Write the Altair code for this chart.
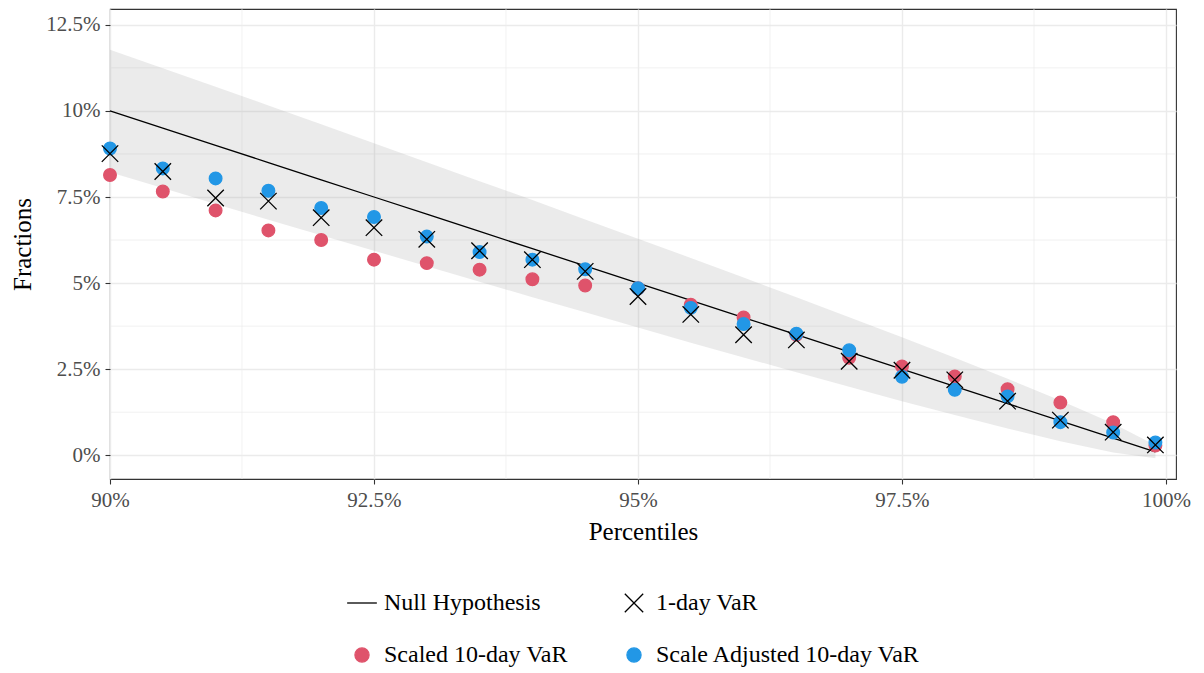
import altair as alt
import pandas as pd

# ---- data (fractions) ----
percentiles = [0.900, 0.905, 0.910, 0.915, 0.920, 0.925, 0.930, 0.935, 0.940, 0.945, 0.950,
               0.955, 0.960, 0.965, 0.970, 0.975, 0.980, 0.985, 0.990, 0.995, 0.999]
null_hypothesis = [0.100, 0.095, 0.090, 0.085, 0.080, 0.075, 0.070, 0.065, 0.060, 0.055, 0.050,
                   0.045, 0.040, 0.035, 0.030, 0.025, 0.020, 0.015, 0.010, 0.005, 0.001]
band_low = [0.0822, 0.0776, 0.0730, 0.0684, 0.0639, 0.0594, 0.0549, 0.0504, 0.0459, 0.0415, 0.0371,
            0.0327, 0.0284, 0.0241, 0.0199, 0.0157, 0.0117, 0.0078, 0.0041, 0.0008, -0.0009]
band_high = [0.1178, 0.1124, 0.1070, 0.1016, 0.0961, 0.0906, 0.0851, 0.0796, 0.0741, 0.0685, 0.0629,
             0.0573, 0.0516, 0.0459, 0.0401, 0.0343, 0.0283, 0.0222, 0.0159, 0.0092, 0.0029]
one_day_var = [0.0876, 0.0824, 0.0747, 0.0738, 0.0690, 0.0661, 0.0627, 0.0594, 0.0568, 0.0534, 0.0461,
               0.0409, 0.0350, 0.0335, 0.0273, 0.0247, 0.0219, 0.0157, 0.0102, 0.0067, 0.0030]
scaled_10day = [0.0814, 0.0766, 0.0711, 0.0653, 0.0625, 0.0568, 0.0558, 0.0539, 0.0511, 0.0493, 0.0485,
                0.0437, 0.0400, 0.0350, 0.0283, 0.0258, 0.0229, 0.0192, 0.0153, 0.0096, 0.0028]
adjusted_10day = [0.0891, 0.0833, 0.0804, 0.0768, 0.0718, 0.0692, 0.0635, 0.0590, 0.0568, 0.0540, 0.0485,
                  0.0428, 0.0381, 0.0353, 0.0305, 0.0228, 0.0190, 0.0171, 0.0096, 0.0066, 0.0037]

series_names = ["Null Hypothesis", "1-day VaR", "Scaled 10-day VaR", "Scale Adjusted 10-day VaR"]
series_colors = ["#000000", "#000000", "#DF536B", "#2297E6"]
x_ticks = [0.900, 0.925, 0.950, 0.975, 1.000]
y_ticks = [0.000, 0.025, 0.050, 0.075, 0.100, 0.125]
x_minor = [0.9125, 0.9375, 0.9625, 0.9875]
y_minor = [0.0125, 0.0375, 0.0625, 0.0875, 0.1125]

LINE_PATH = "M-2.1,0L2.1,0"
X_PATH = "M-1.3,-1.3L1.3,1.3M-1.3,1.3L1.3,-1.3"
series_shapes = [LINE_PATH, X_PATH, "circle", "circle"]

FONT = "Liberation Serif"

band_df = pd.DataFrame({"pct": percentiles, "low": band_low, "high": band_high})
line_df = pd.DataFrame({"pct": percentiles, "value": null_hypothesis})
pts_rows = []
for name, vals in [("Scaled 10-day VaR", scaled_10day),
                   ("Scale Adjusted 10-day VaR", adjusted_10day),
                   ("1-day VaR", one_day_var)]:
    for p, v in zip(percentiles, vals):
        pts_rows.append({"pct": p, "value": v, "series": name})
pts_df = pd.DataFrame(pts_rows)
pts_df["ord"] = range(len(pts_df))
xminor_df = pd.DataFrame({"pct": x_minor})
yminor_df = pd.DataFrame({"value": y_minor})

x_scale = alt.Scale(domain=[0.900, 1.00095], nice=False, zero=False)
y_scale = alt.Scale(domain=[-0.0069, 0.1296], nice=False, zero=False)
x_axis = alt.Axis(values=x_ticks, format=".1~%", title="Percentiles", labelFlush=False,
                  labelOverlap=False, grid=True)
y_axis = alt.Axis(values=y_ticks, format=".1~%", title="Fractions", labelOverlap=False, grid=True)

legend = alt.Legend(title=None, orient="none", legendX=240, legendY=582, columns=2,
                    direction="horizontal",
                    symbolSize=200, symbolStrokeWidth=1.3, labelOffset=10, labelLimit=500,
                    columnPadding=54, rowPadding=28, padding=0,
                    labelFont=FONT, labelFontSize=24, labelColor="black")

minor_x = alt.Chart(xminor_df).mark_rule(color="#EBEBEB", strokeWidth=0.7).encode(
    x=alt.X("pct:Q", scale=x_scale, axis=x_axis))
minor_y = alt.Chart(yminor_df).mark_rule(color="#EBEBEB", strokeWidth=0.7).encode(
    y=alt.Y("value:Q", scale=y_scale, axis=y_axis))

band = alt.Chart(band_df).mark_area(color="#999999", opacity=0.2).encode(
    x=alt.X("pct:Q", scale=x_scale, axis=x_axis),
    y=alt.Y("low:Q", scale=y_scale, axis=y_axis),
    y2="high:Q")

line = alt.Chart(line_df).mark_line(color="black", strokeWidth=1.3).encode(
    x=alt.X("pct:Q", scale=x_scale, axis=x_axis),
    y=alt.Y("value:Q", scale=y_scale, axis=y_axis))

points = alt.Chart(pts_df).mark_point(filled=True, size=160, strokeWidth=1.3, opacity=1).encode(
    x=alt.X("pct:Q", scale=x_scale, axis=x_axis),
    y=alt.Y("value:Q", scale=y_scale, axis=y_axis),
    color=alt.Color("series:N", scale=alt.Scale(domain=series_names, range=series_colors), legend=legend),
    stroke=alt.Stroke("series:N", scale=alt.Scale(domain=series_names, range=series_colors), legend=legend),
    shape=alt.Shape("series:N", scale=alt.Scale(domain=series_names, range=series_shapes), legend=legend),
    order=alt.Order("ord:Q"))

chart = alt.layer(minor_x, minor_y, band, line, points).properties(
    width=1066, height=470,
    autosize=alt.AutoSizeParams(type="none"),
    padding={"left": 102, "top": 1, "right": 20, "bottom": 200},
).configure(font=FONT).configure_view(
    stroke="#333333", strokeWidth=1.1
).configure_axis(
    domain=False, tickColor="#333333", tickSize=5, tickWidth=1.1,
    labelColor="#4D4D4D", labelFontSize=21, labelFont=FONT, labelPadding=5,
    titleFont=FONT, titleFontSize=25, titleFontWeight="normal", titleColor="black",
    gridColor="#EBEBEB", gridWidth=1.4
).configure_axisX(titlePadding=9).configure_axisY(titlePadding=10).configure_legend(
    labelFont=FONT, labelFontSize=24, labelColor="black"
)

chart.save("out.html", embed_options={"renderer": "svg", "actions": False})
